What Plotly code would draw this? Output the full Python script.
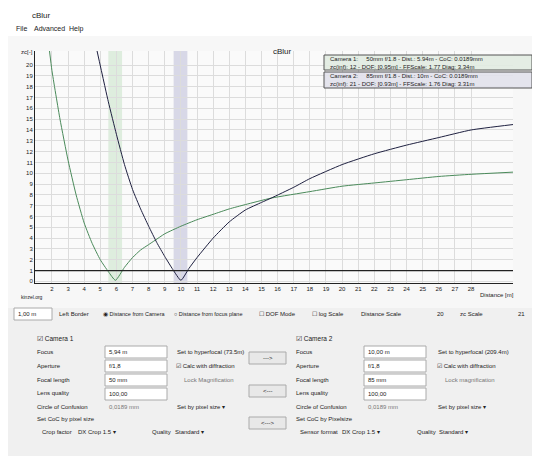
import plotly.graph_objects as go

# Camera 1 (50mm, focus 5.94 m) blur curve
cam1_x = [1.85, 2, 2.5, 3, 3.5, 4, 4.5, 5, 5.5, 5.94, 6.5, 7, 7.5, 8, 8.4, 9, 10, 11, 12, 13, 14, 15.6, 18, 20, 22, 24, 26, 28, 30.6]
cam1_y = [21.3, 19.5, 15.0, 11.2, 8.0, 5.4, 3.5, 2.0, 0.9, 0.1, 1.3, 2.2, 2.9, 3.4, 3.8, 4.4, 5.1, 5.7, 6.2, 6.7, 7.1, 7.7, 8.3, 8.8, 9.1, 9.4, 9.7, 9.9, 10.1]
# Camera 2 (85mm, focus 10 m) blur curve
cam2_x = [4.8, 5.5, 6, 6.5, 7, 7.5, 8, 8.5, 9, 9.5, 10, 10.5, 11, 12, 13, 14, 15, 15.6, 17, 18, 20, 22, 24, 26, 28, 30.6]
cam2_y = [21.3, 16.6, 13.6, 10.8, 8.5, 6.7, 5.1, 3.6, 2.3, 1.1, 0.1, 1.2, 2.2, 4.0, 5.5, 6.6, 7.3, 7.7, 8.7, 9.5, 10.8, 11.8, 12.6, 13.3, 14.0, 14.5]
x_ticks = list(range(2, 29))
y_ticks = list(range(0, 21))
dof1 = [5.5, 6.35]
dof2 = [9.55, 10.4]
threshold = 1

W, H = 540, 456
L, R, T, B = 27, 505, 43, 275
def px(x): return (x - L) / (R - L)
def py(y): return (B - y) / (B - T)

fig = go.Figure()
fig.add_trace(go.Scatter(x=cam1_x, y=cam1_y, mode="lines", line=dict(color="#4a8a5a", width=1, shape="spline", smoothing=0.5), showlegend=False))
fig.add_trace(go.Scatter(x=cam2_x, y=cam2_y, mode="lines", line=dict(color="#1e2040", width=1, shape="spline", smoothing=0.5), showlegend=False))

fig.add_vrect(x0=dof1[0], x1=dof1[1], fillcolor="rgba(140,200,140,0.25)", line_width=0, layer="below")
fig.add_vrect(x0=dof2[0], x1=dof2[1], fillcolor="rgba(140,140,190,0.3)", line_width=0, layer="below")
fig.add_hline(y=threshold, line=dict(color="#222", width=1.2))

# window chrome
shapes = [
    dict(type="rect", xref="paper", yref="paper", x0=px(0), x1=px(540), y0=py(300), y1=py(456), fillcolor="#f0f0f0", line_width=0, layer="below"),
    dict(type="rect", xref="paper", yref="paper", x0=px(0), x1=px(540), y0=py(28), y1=py(0), fillcolor="#ffffff", line_width=0, layer="below"),
    dict(type="rect", xref="paper", yref="paper", x0=px(316), x1=px(524), y0=py(62), y1=py(47), fillcolor="rgba(225,235,225,0.9)", line=dict(color="#555", width=1)),
    dict(type="rect", xref="paper", yref="paper", x0=px(316), x1=px(524), y0=py(80), y1=py(64), fillcolor="rgba(225,225,235,0.9)", line=dict(color="#555", width=1)),
]
for bx, by in [(241, 350), (241, 383), (241, 415)]:
    shapes.append(dict(type="rect", xref="paper", yref="paper", x0=px(bx), x1=px(bx+37), y0=py(by+6), y1=py(by-6), fillcolor="#e8e8e8", line=dict(color="#aaa", width=1)))
for fx, fy, fw in [(97, 344, 62), (97, 358, 62), (97, 372, 62), (97, 386, 62), (356, 344, 62), (356, 358, 62), (356, 372, 62), (356, 386, 62), (6, 306, 38)]:
    shapes.append(dict(type="rect", xref="paper", yref="paper", x0=px(fx), x1=px(fx+fw), y0=py(fy+6), y1=py(fy-6), fillcolor="#ffffff", line=dict(color="#aaa", width=1)))
fig.update_layout(shapes=list(fig.layout.shapes) + shapes)

anns = [
    ("cBlur", 22, 8, 8), ("File", 6, 21, 7), ("Advanced", 24, 21, 7), ("Help", 59, 21, 7),
    ("cBlur", 263, 43, 8), ("zc[-]", 11, 44, 6), ("kinzel.org", 11, 289, 5),
    ("Camera 1:     50mm f/1.8 - Dist.: 5.94m - CoC: 0.0189mm", 320, 51, 6),
    ("zc(inf): 12 - DOF: [0.95m] - FFScale: 1.77 Diag: 3.34m", 320, 59, 6),
    ("Camera 2:     85mm f/1.8 - Dist.: 10m - CoC: 0.0189mm", 320, 68, 6),
    ("zc(inf): 21 - DOF: [0.93m] - FFScale: 1.76 Diag: 3.31m", 320, 76, 6),
    ("1,00 m", 8, 306, 6), ("Left Border", 49, 306, 6), ("◉ Distance from Camera", 93, 306, 5.5),
    ("○ Distance from focus plane", 164, 306, 5.5), ("☐ DOF Mode", 249, 306, 6), ("☐ log Scale", 302, 306, 6),
    ("Distance Scale", 351, 306, 6), ("20", 427, 306, 6), ("zc Scale", 450, 306, 6), ("21", 508, 306, 6),
    ("☑ Camera 1", 27, 330, 6.5), ("☑ Camera 2", 286, 330, 6.5),
    ("Focus", 27, 344, 6), ("Aperture", 27, 358, 6), ("Focal length", 27, 372, 6), ("Lens quality", 27, 385, 6),
    ("Circle of Confusion", 27, 399, 6), ("Set CoC by pixel size", 27, 411, 6), ("Crop factor", 32, 424, 6),
    ("5,94 m", 99, 344, 6), ("f/1,8", 99, 358, 6), ("50 mm", 99, 372, 6), ("100,00", 99, 386, 6), ("0,0189 mm", 99, 399, 6),
    ("Set to hyperfocal (73.5m)", 167, 344, 6), ("☑ Calc with diffraction", 166, 358, 6), ("Lock Magnification", 174, 372, 6),
    ("Set by pixel size ▾", 167, 399, 6), ("DX Crop 1.5 ▾", 68, 424, 6), ("Quality", 142, 424, 6), ("Standard ▾", 165, 424, 6),
    ("Focus", 286, 344, 6), ("Aperture", 286, 358, 6), ("Focal length", 286, 372, 6), ("Lens quality", 286, 385, 6),
    ("Circle of Confusion", 286, 399, 6), ("Set CoC by Pixelsize", 286, 411, 6), ("Sensor format", 290, 424, 6),
    ("10,00 m", 358, 344, 6), ("f/1,8", 358, 358, 6), ("85 mm", 358, 372, 6), ("100,00", 358, 386, 6), ("0,0189 mm", 358, 399, 6),
    ("Set to hyperfocal (209.4m)", 428, 344, 6), ("☑ Calc with diffraction", 427, 358, 6), ("Lock magnification", 435, 372, 6),
    ("Set by pixel size ▾", 428, 399, 6), ("DX Crop 1.5 ▾", 332, 424, 6), ("Quality", 407, 424, 6), ("Standard ▾", 429, 424, 6),
    ("--->", 253, 350, 6), ("<---", 253, 383, 6), ("<--->", 251, 415, 6),
]
annotations = [dict(text=t, x=px(x), y=py(y), xref="paper", yref="paper", xanchor="left", yanchor="middle",
                    showarrow=False, font=dict(size=s, color="#777" if t.startswith(("0,0189", "Lock")) else "#222"))
               for t, x, y, s in anns]
annotations.append(dict(text="Distance [m]", x=px(508), y=py(287), xref="paper", yref="paper", xanchor="right",
                        yanchor="middle", showarrow=False, font=dict(size=6, color="#222")))
fig.update_layout(annotations=annotations)

fig.update_layout(
    width=W, height=H, margin=dict(l=L, r=W - R, t=T, b=H - B, autoexpand=False),
    paper_bgcolor="#f7f7f7", plot_bgcolor="#fafafa",
    font=dict(family="Liberation Sans, Arial", size=6, color="#222"),
    xaxis=dict(range=[0.95, 30.6], tickvals=x_ticks, showgrid=True, gridcolor="#dcdcdc", gridwidth=1, automargin=False,
               showline=True, linecolor="#222", zeroline=False, ticks="", fixedrange=True),
    yaxis=dict(range=[-0.15, 21.3], tickvals=y_ticks, showgrid=True, gridcolor="#dcdcdc", gridwidth=1, automargin=False,
               showline=True, linecolor="#222", zeroline=False, ticks="", fixedrange=True),
)
fig.write_html("out.html")
